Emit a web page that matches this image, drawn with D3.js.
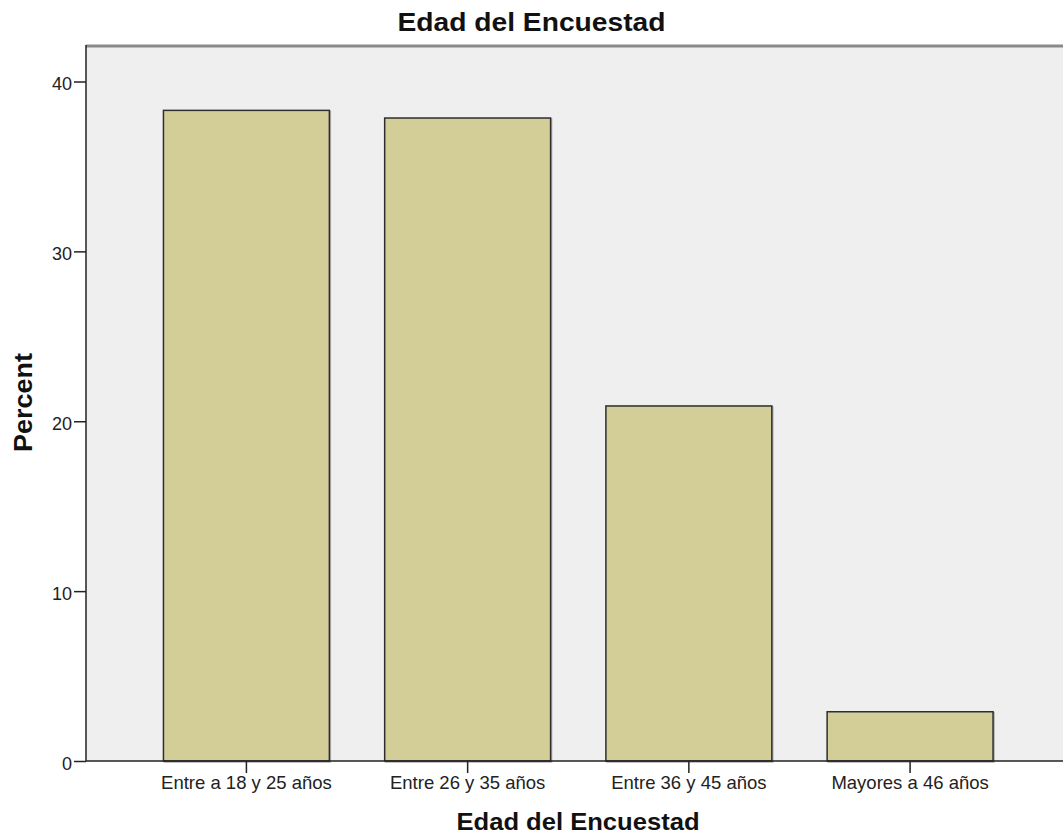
<!DOCTYPE html>
<html>
<head>
<meta charset="utf-8">
<script src="https://cdn.jsdelivr.net/npm/d3@7"></script>
<style>
  body { margin: 0; background: #fff; }
  text { font-family: "Liberation Sans", Arial, sans-serif; }
</style>
</head>
<body>
<div id="chart"></div>
<script>
// datos del grafico
var categorias = ["Entre a 18 y 25 años", "Entre 26 y 35 años", "Entre 36 y 45 años", "Mayores a 46 años"];
var porcentajes = [38.3, 37.85, 20.9, 2.9];
var ticksY = [0, 10, 20, 30, 40];

var width = 1063, height = 839;
var mLeft = 86, mTop = 45, mBottom = 761, mRight = 1075;

var svg = d3.select("#chart").append("svg")
  .attr("width", width)
  .attr("height", height);

var y = d3.scaleLinear().domain([0, 40]).range([mBottom, 81.5]);
var x = d3.scaleBand()
  .domain(categorias)
  .range([135.8, 1020.7])
  .paddingInner(0.25)
  .paddingOuter(0.125);

// fondo del area
svg.append("rect")
  .attr("x", mLeft).attr("y", mTop)
  .attr("width", mRight - mLeft).attr("height", mBottom - mTop)
  .style("fill", "#efefef");

// borde superior
svg.append("line")
  .attr("x1", mLeft).attr("x2", mRight)
  .attr("y1", mTop + 1).attr("y2", mTop + 1)
  .style("stroke", "#8a8a8a").style("stroke-width", 3);

// barras (sombra + barra)
svg.selectAll(".sombra")
  .data(porcentajes).enter()
  .append("rect")
  .attr("x", function(d, i) { return x(categorias[i]) + 1; })
  .attr("y", function(d) { return y(d) + 1; })
  .attr("width", x.bandwidth())
  .attr("height", function(d) { return mBottom - y(d); })
  .style("fill", "none")
  .style("stroke", "#b0b0b0")
  .style("stroke-width", 1.5);

svg.selectAll(".barra")
  .data(porcentajes).enter()
  .append("rect")
  .attr("x", function(d, i) { return x(categorias[i]); })
  .attr("y", function(d) { return y(d); })
  .attr("width", x.bandwidth())
  .attr("height", function(d) { return mBottom - y(d); })
  .style("fill", "#d3ce98")
  .style("stroke", "#2e2e2e")
  .style("stroke-width", 1.5);

// eje y
var ejeY = svg.append("g")
  .attr("transform", "translate(" + mLeft + ",0)")
  .call(d3.axisLeft(y).tickValues(ticksY).tickSize(12).tickPadding(2).tickSizeOuter(0));
ejeY.select(".domain").attr("d", "M0," + mTop + "V" + mBottom).style("stroke", "#222").style("stroke-width", 1.5);
ejeY.selectAll(".tick line").style("stroke", "#222").style("stroke-width", 1.5);
ejeY.selectAll("text").style("font-size", "18px").style("fill", "#222").attr("dy", "0.45em");

// eje x
var ejeX = svg.append("g")
  .attr("transform", "translate(0," + mBottom + ")")
  .call(d3.axisBottom(x).tickSize(12).tickPadding(3).tickSizeOuter(0));
ejeX.select(".domain").attr("d", "M" + mLeft + ",0H" + mRight).style("stroke", "#222").style("stroke-width", 1.5);
ejeX.selectAll(".tick line").style("stroke", "#222").style("stroke-width", 1.5);
ejeX.selectAll("text").style("font-size", "18.5px").style("fill", "#222");

// titulos
svg.append("text")
  .attr("x", 531.5).attr("y", 31)
  .attr("text-anchor", "middle")
  .attr("textLength", 268).attr("lengthAdjust", "spacingAndGlyphs")
  .style("font-size", "25px").style("font-weight", "bold").style("fill", "#111")
  .text("Edad del Encuestad");

svg.append("text")
  .attr("x", 578).attr("y", 830)
  .attr("text-anchor", "middle")
  .attr("textLength", 243).attr("lengthAdjust", "spacingAndGlyphs")
  .style("font-size", "24px").style("font-weight", "bold").style("fill", "#111")
  .text("Edad del Encuestad");

svg.append("text")
  .attr("transform", "translate(32,402.5) rotate(-90)")
  .attr("text-anchor", "middle")
  .attr("textLength", 99).attr("lengthAdjust", "spacingAndGlyphs")
  .style("font-size", "25px").style("font-weight", "bold").style("fill", "#111")
  .text("Percent");
</script>
</body>
</html>
